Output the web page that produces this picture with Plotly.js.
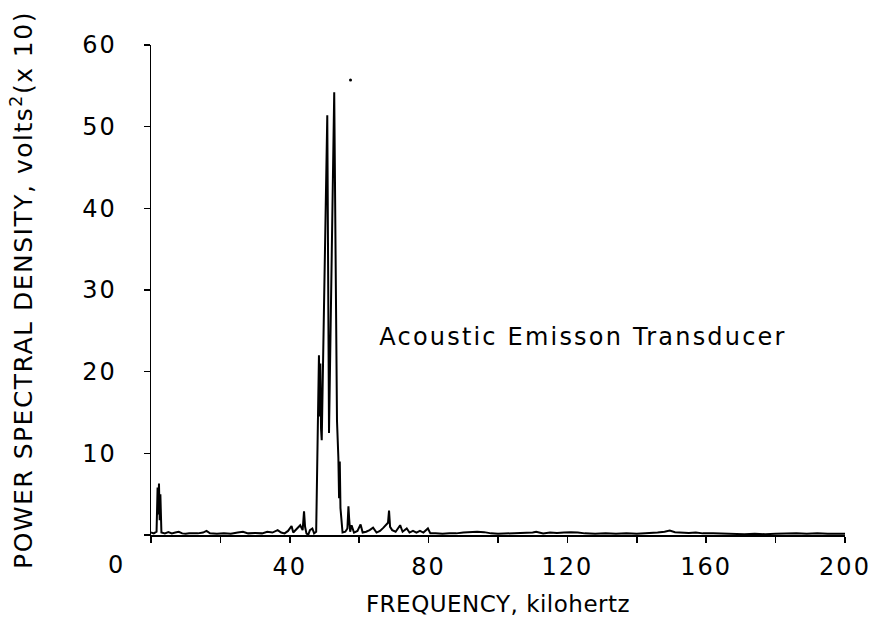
<!DOCTYPE html>
<html>
<head>
<meta charset="utf-8">
<script src="https://cdn.plot.ly/plotly-3.0.1.min.js"></script>
<style>
  html, body { margin: 0; padding: 0; background: #fff; }
  #chart { width: 877px; height: 621px; }
  #chart .xtick text, #chart .ytick text { letter-spacing: 2px; }
  #chart text.ytitle { letter-spacing: 1.5px; }
  #chart text.xtitle { letter-spacing: 0.5px; }
  #chart .annotation text { letter-spacing: 2.2px; }
</style>
</head>
<body>
<div id="chart"></div>
<script>
// ---- data ----
const freqKHz = [
  0, 0.8, 1.6, 1.9, 2.1, 2.3, 2.5, 2.7, 3.0, 4.0, 5.0, 6.0, 7.0, 8.0, 9.0, 10.0, 11, 12, 13.5, 15,
  16, 17, 19, 21, 23, 25, 26.5, 28, 30, 32, 33.5, 35, 36.5, 37.5, 38.5, 39.5, 40.5, 41, 42, 43,
  43.7, 44.1, 44.4, 44.8, 45.3, 45.8, 46.5, 47.0, 47.6, 48.4, 48.6, 48.8, 49.0, 49.2, 50.8, 51.3, 52.8, 53.6, 54.0, 54.2,
  54.4, 54.6, 55.2, 56.0, 56.6, 56.9, 57.1, 57.4, 57.8, 58.5, 59.5, 60.4, 61, 62, 63, 64, 65, 66, 67, 68.3,
  68.6, 68.9, 69.5, 70.5, 71.8, 72.5, 73.7, 74.5, 75.5, 76.5, 77.5, 78.5, 79.8, 80.5, 82, 84, 86, 88, 90, 92,
  94, 96, 98, 100, 103, 106, 108, 110, 111, 113, 115, 117, 119, 121, 123, 125, 128, 131, 134, 137,
  140, 143, 146, 148, 149.5, 151, 153, 155, 157, 159, 162, 165, 168, 171, 174, 177, 180, 183, 186, 189,
  192, 195, 198, 200
];
const psd = [
  0.3, 0.2, 0.4, 5.8, 2.5, 6.3, 1.8, 5.0, 0.3, 0.2, 0.35, 0.2, 0.3, 0.4, 0.2, 0.15, 0.2, 0.2, 0.2, 0.3,
  0.5, 0.2, 0.15, 0.2, 0.15, 0.3, 0.4, 0.2, 0.25, 0.2, 0.4, 0.3, 0.6, 0.3, 0.2, 0.5, 1.1, 0.3, 0.8, 1.2,
  0.6, 2.9, 1.0, 0.2, 0.0, 0.6, 0.8, 0.2, 0.4, 22.0, 14.5, 21.0, 13.0, 11.6, 51.4, 12.5, 54.2, 14.0, 9.4, 4.5,
  9.0, 3.3, 0.3, 0.4, 0.8, 3.5, 2.0, 0.4, 1.2, 0.3, 0.5, 1.3, 0.3, 0.4, 0.6, 0.9, 0.3, 0.5, 0.9, 1.5,
  3.0, 1.0, 0.6, 0.4, 1.2, 0.4, 0.8, 0.3, 0.5, 0.3, 0.5, 0.3, 0.8, 0.2, 0.2, 0.15, 0.2, 0.2, 0.3, 0.35,
  0.4, 0.35, 0.2, 0.15, 0.2, 0.2, 0.25, 0.3, 0.4, 0.2, 0.3, 0.25, 0.3, 0.35, 0.3, 0.2, 0.15, 0.2, 0.15, 0.2,
  0.15, 0.2, 0.3, 0.4, 0.55, 0.35, 0.3, 0.25, 0.3, 0.2, 0.2, 0.15, 0.1, 0.1, 0.15, 0.1, 0.15, 0.2, 0.2, 0.15,
  0.2, 0.15, 0.2, 0.15
];
// stray ink dot on the original plot
const strayDotX = [57.5];
const strayDotY = [55.7];

const xTickVals = [40, 80, 120, 160, 200];
const xTickText = ["40", "80", "120", "160", "200"];
const yTickVals = [10, 20, 30, 40, 50, 60];
const yTickText = ["10", "20", "30", "40", "50", "60"];
const originLabel = "0";

const xTitle = "FREQUENCY, kilohertz";
const yTitle = "POWER SPECTRAL DENSITY, volts<sup>2</sup>(x 10)";
const noteText = "Acoustic Emisson Transducer";
const notePos = [124.6, 24.2];

const FONT = "DejaVu Sans, sans-serif";

const traces = [
  {
    x: freqKHz, y: psd, type: "scatter", mode: "lines",
    line: { color: "#000", width: 2 },
    hoverinfo: "skip", showlegend: false
  },
  {
    x: strayDotX, y: strayDotY, type: "scatter", mode: "markers",
    marker: { color: "#000", size: 3 }, hoverinfo: "skip", showlegend: false
  }
];

const minorTicks = (d) => ({
  tick0: 0, dtick: d, ticks: "outside", ticklen: 6, tickwidth: 1.5,
  tickcolor: "#000", showgrid: false
});

const layout = {
  width: 877, height: 621,
  paper_bgcolor: "#fff", plot_bgcolor: "#fff",
  margin: { l: 151, r: 32, t: 45, b: 86 },
  font: { family: FONT, color: "#000", size: 23 },
  showlegend: false,
  xaxis: {
    range: [0, 200], autorange: false,
    tickmode: "array", tickvals: xTickVals, ticktext: xTickText,
    ticks: "outside", ticklen: 6, tickwidth: 1.5, tickcolor: "#000",
    minor: minorTicks(20),
    showline: true, linecolor: "#000", linewidth: 1.8,
    showgrid: false, zeroline: false,
    ticklabelstandoff: 3,
    tickfont: { family: FONT, size: 24, color: "#000" },
    title: { text: xTitle, font: { family: FONT, size: 23, color: "#000" }, standoff: 16 }
  },
  yaxis: {
    range: [0, 60], autorange: false,
    tickmode: "array", tickvals: yTickVals, ticktext: yTickText,
    ticks: "outside", ticklen: 6, tickwidth: 1.5, tickcolor: "#000",
    minor: minorTicks(10),
    showline: true, linecolor: "#000", linewidth: 1.5,
    showgrid: false, zeroline: false,
    ticklabelstandoff: 22,
    tickfont: { family: FONT, size: 24, color: "#000" },
    title: { text: yTitle, font: { family: FONT, size: 25, color: "#000" }, standoff: 46 }
  },
  annotations: [
    {
      x: notePos[0], y: notePos[1], xref: "x", yref: "y",
      text: noteText, showarrow: false, xanchor: "center", yanchor: "middle",
      font: { family: FONT, size: 24, color: "#000" }
    },
    {
      x: -0.05, y: -0.062, xref: "paper", yref: "paper",
      text: originLabel, showarrow: false, xanchor: "center", yanchor: "middle",
      font: { family: FONT, size: 24, color: "#000" }
    }
  ]
};

Plotly.newPlot("chart", traces, layout, { staticPlot: true, displayModeBar: false });
</script>
</body>
</html>
